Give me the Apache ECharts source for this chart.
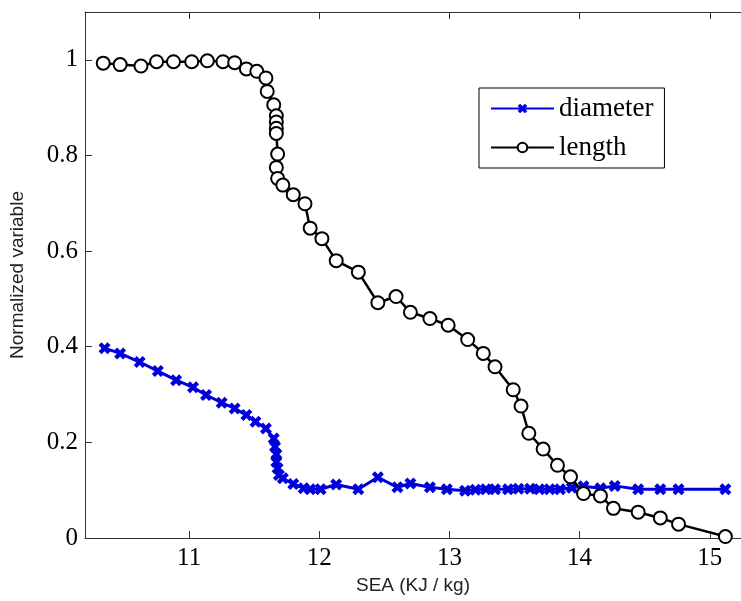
<!DOCTYPE html>
<html>
<head>
<meta charset="utf-8">
<script src="https://cdn.jsdelivr.net/npm/echarts@6/dist/echarts.min.js"></script>
<style>
  html, body { margin: 0; padding: 0; background: #fff; }
  #chart { width: 741px; height: 601px; }
</style>
</head>
<body>
<div id="chart"></div>
<script>
// values
var lengthX = [10.34, 10.47, 10.63, 10.75, 10.88, 11.02, 11.14, 11.26, 11.35, 11.44,
  11.52, 11.59, 11.60, 11.65, 11.67, 11.67, 11.67, 11.67, 11.68, 11.67, 11.68, 11.72,
  11.80, 11.89, 11.93, 12.02, 12.13, 12.30, 12.45, 12.59, 12.70, 12.85, 12.99, 13.14,
  13.26, 13.35, 13.49, 13.55, 13.61, 13.72, 13.83, 13.93, 14.03, 14.16, 14.26, 14.45,
  14.62, 14.76, 15.12];
var lengthY = [0.993, 0.990, 0.987, 0.996, 0.996, 0.996, 0.998, 0.996, 0.994, 0.981,
  0.976, 0.962, 0.934, 0.906, 0.883, 0.870, 0.857, 0.846, 0.803, 0.775, 0.752, 0.738,
  0.718, 0.699, 0.648, 0.626, 0.580, 0.556, 0.492, 0.505, 0.472, 0.459, 0.445, 0.415,
  0.386, 0.358, 0.310, 0.276, 0.219, 0.186, 0.152, 0.128, 0.093, 0.088, 0.062, 0.054,
  0.042, 0.029, 0.003];

var diameterX = [10.35, 10.47, 10.62, 10.76, 10.90, 11.03, 11.13, 11.25, 11.35, 11.44,
  11.51, 11.59, 11.65, 11.66, 11.67, 11.67, 11.68, 11.69, 11.72, 11.80, 11.88, 11.93,
  12.01, 12.13, 12.30, 12.45, 12.60, 12.70, 12.85, 12.98, 13.12, 13.20, 13.28, 13.35,
  13.45, 13.53, 13.62, 13.69, 13.77, 13.85, 13.94, 14.03, 14.16, 14.27, 14.45, 14.62,
  14.76, 15.12];
var diameterY = [0.397, 0.386, 0.368, 0.349, 0.330, 0.315, 0.299, 0.283, 0.271, 0.257,
  0.243, 0.229, 0.208, 0.191, 0.175, 0.159, 0.146, 0.132, 0.125, 0.113, 0.104, 0.102,
  0.102, 0.112, 0.102, 0.127, 0.106, 0.114, 0.106, 0.102, 0.099, 0.101, 0.102, 0.102,
  0.102, 0.103, 0.103, 0.102, 0.102, 0.102, 0.105, 0.108, 0.104, 0.109, 0.102, 0.102,
  0.102, 0.102];

var xTicks = [11, 12, 13, 14, 15];
var yTicks = [0, 0.2, 0.4, 0.6, 0.8, 1];

function pairs(xs, ys) {
  var out = [];
  for (var i = 0; i < xs.length; i++) out.push([xs[i], ys[i]]);
  return out;
}

// filled "x" marker
var crossPath = 'path://M0,3L3,0L6,3L9,0L12,3L9,6L12,9L9,12L6,9L3,12L0,9L3,6Z';
var serif = 'Liberation Serif';
var sans = 'Liberation Sans';

var myChart = echarts.init(document.getElementById('chart'));
myChart.setOption({
  animation: false,
  backgroundColor: '#fff',
  grid: { left: 84, top: 12, right: 0, bottom: 63 },
  legend: {
    orient: 'vertical',
    left: 479,
    top: 88,
    padding: [7, 11, 7, 11],
    itemGap: 12,
    itemWidth: 63,
    itemHeight: 12,
    borderColor: '#000',
    borderWidth: 1,
    backgroundColor: '#fff',
    textStyle: { fontFamily: serif, fontSize: 27, color: '#000' },
    data: ['diameter', 'length']
  },
  xAxis: [
    {
      type: 'value',
      min: 10.2,
      max: 15.24,
      name: 'SEA (KJ / kg)',
      nameLocation: 'middle',
      nameGap: 37,
      nameTextStyle: { fontFamily: sans, fontSize: 19, color: '#222' },
      axisLine: { lineStyle: { color: '#333', width: 1 } },
      axisTick: { inside: true, length: 7, customValues: xTicks, lineStyle: { color: '#333' } },
      axisLabel: { customValues: xTicks, margin: 8, fontFamily: serif, fontSize: 25, color: '#000' },
      splitLine: { show: false }
    },
    {
      type: 'value',
      position: 'top',
      min: 10.2,
      max: 15.24,
      axisLine: { show: true, onZero: false, lineStyle: { color: '#333', width: 1 } },
      axisTick: { inside: true, length: 7, customValues: xTicks, lineStyle: { color: '#333' } },
      axisLabel: { show: false },
      splitLine: { show: false }
    }
  ],
  yAxis: {
    type: 'value',
    min: 0,
    max: 1.1,
    name: 'Normalized variable',
    nameLocation: 'middle',
    nameGap: 58,
    nameTextStyle: { fontFamily: sans, fontSize: 19, color: '#222' },
    axisLine: { show: true, lineStyle: { color: '#333', width: 1 } },
    axisTick: { show: true, inside: true, length: 7, customValues: yTicks, lineStyle: { color: '#333' } },
    axisLabel: { customValues: yTicks, margin: 7, fontFamily: serif, fontSize: 25, color: '#000' },
    splitLine: { show: false }
  },
  series: [
    {
      name: 'diameter',
      type: 'line',
      data: pairs(diameterX, diameterY),
      symbol: crossPath,
      symbolSize: 12,
      showAllSymbol: true,
      color: '#0000dd',
      lineStyle: { color: '#0000dd', width: 3 },
      itemStyle: { color: '#0000dd' },
      z: 2
    },
    {
      name: 'length',
      type: 'line',
      data: pairs(lengthX, lengthY),
      symbol: 'emptyCircle',
      symbolSize: 13,
      showAllSymbol: true,
      color: '#000',
      lineStyle: { color: '#000', width: 2.5 },
      itemStyle: { color: '#000', borderColor: '#000', borderWidth: 3 },
      z: 3
    }
  ]
});
</script>
</body>
</html>
